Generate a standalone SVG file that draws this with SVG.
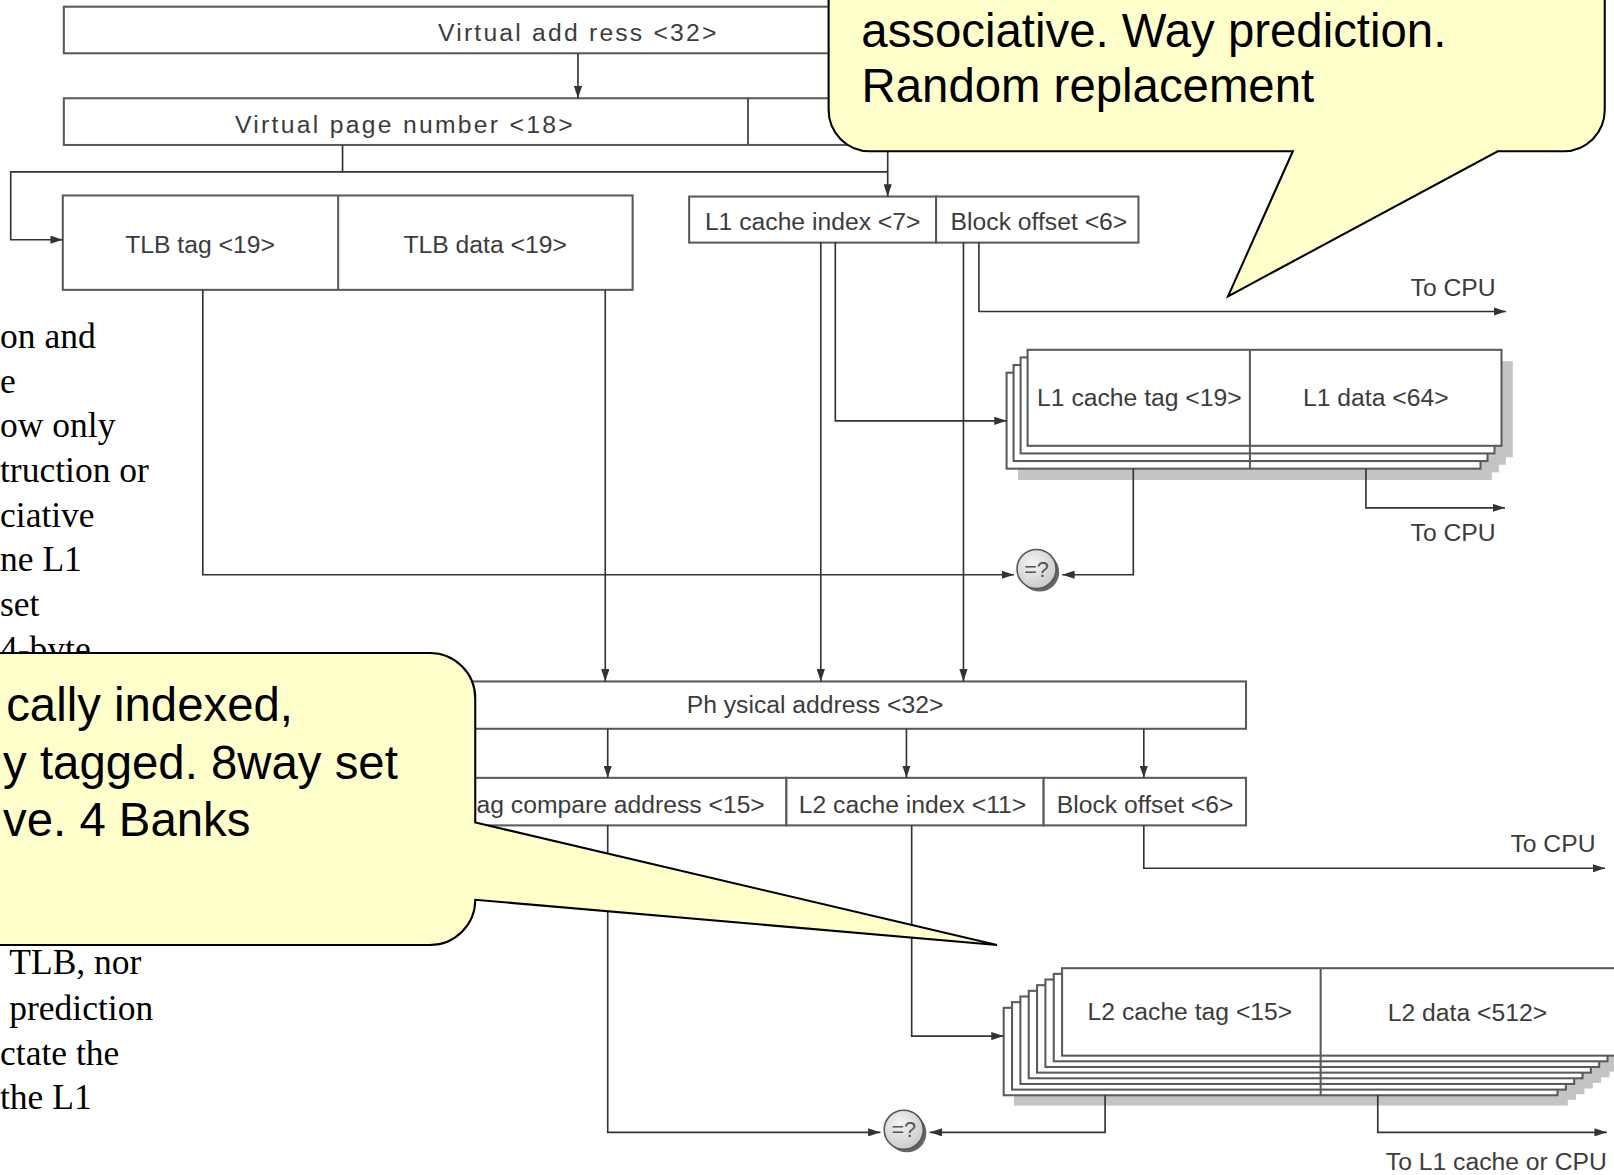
<svg xmlns="http://www.w3.org/2000/svg" width="1614" height="1175" viewBox="0 0 1614 1175">
<defs>
<style>
.box{fill:#fff;stroke:#5a5a5a;stroke-width:2}
.ln{fill:none;stroke:#333;stroke-width:1.6}
.arr{marker-end:url(#ah)}
.lbl{font-family:"Liberation Sans",Arial,sans-serif;font-size:24px;fill:#3c3c3c}
.mid{text-anchor:middle}
.end{text-anchor:end}
.serif{font-family:"Liberation Serif","Times New Roman",serif;font-size:34.5px;fill:#000}
.call{fill:#FFFFCC;stroke:#000;stroke-width:2}
.ctext{font-family:"Liberation Sans",Arial,sans-serif;font-size:46px;fill:#000}
.shd{fill:#c4c4c4;stroke:none}
.cmp{fill:url(#cg);stroke:#555;stroke-width:1.5}
.cmpshd{fill:#666}
.cmpt{font-family:"Liberation Sans",Arial,sans-serif;font-size:21px;fill:#555;text-anchor:middle}
</style>
<marker id="ah" markerUnits="userSpaceOnUse" markerWidth="12" markerHeight="8" refX="12" refY="4" orient="auto">
<path d="M0,0 L12,4 L0,8 z" fill="#333"/>
</marker>
<radialGradient id="cg" cx="0.4" cy="0.35" r="0.7">
<stop offset="0" stop-color="#f4f4f4"/>
<stop offset="1" stop-color="#c8c8c8"/>
</radialGradient>
</defs>
<rect width="1614" height="1175" fill="#fff"/>
<g transform="scale(1.02934 1.0289)">

<g id="caption-text">
<text class="serif" x="0" y="338">on and</text>
<text class="serif" x="0" y="382">e</text>
<text class="serif" x="0" y="425">ow only</text>
<text class="serif" x="0" y="468">truction or</text>
<text class="serif" x="0" y="512">ciative</text>
<text class="serif" x="0" y="555">ne L1</text>
<text class="serif" x="0" y="599">set</text>
<text class="serif" x="0" y="642">4-byte</text>
<text class="serif" x="9" y="947">TLB, nor</text>
<text class="serif" x="9" y="991">prediction</text>
<text class="serif" x="0" y="1035">ctate the</text>
<text class="serif" x="0" y="1078">the L1</text>
</g>

<g id="virtual-address">
<rect class="box" x="62" y="6.5" width="938" height="45.3"/>
<text class="lbl" x="425.5" y="39.5" textLength="270.5" lengthAdjust="spacing">Virtual add ress &lt;32&gt;</text>
</g>

<g id="virtual-page-number">
<rect class="box" x="62" y="95.5" width="664.7" height="45.4"/>
<rect class="box" x="726.7" y="95.5" width="273.3" height="45.4"/>
<text class="lbl" x="228.3" y="129" textLength="328" lengthAdjust="spacing">Virtual page number &lt;18&gt;</text>
</g>

<g id="tlb">
<rect class="box" x="61" y="190" width="553.6" height="91.7"/>
<line class="box" x1="328.5" y1="190" x2="328.5" y2="281.7"/>
<text class="lbl mid" x="194.3" y="246">TLB tag  &lt;19&gt;</text>
<text class="lbl mid" x="471.3" y="246">TLB data &lt;19&gt;</text>
</g>

<g id="l1-index-offset">
<rect class="box" x="669.5" y="191" width="239.9" height="44.8"/>
<rect class="box" x="909.4" y="191" width="196.6" height="44.8"/>
<text class="lbl mid" x="789.5" y="223.5">L1 cache index &lt;7&gt;</text>
<text class="lbl mid" x="1009.3" y="223.5">Block offset &lt;6&gt;</text>
</g>

<g id="l1-cache">
<rect class="shd" x="988.9" y="373.2" width="460.4" height="93.3"/>
<rect class="shd" x="995.7" y="365.8" width="460.4" height="93.3"/>
<rect class="shd" x="1002.5" y="358.4" width="460.4" height="93.3"/>
<rect class="shd" x="1009.3" y="351" width="460.4" height="93.3"/>
<rect class="box" x="977.9" y="362.2" width="460.4" height="93.3"/>
<rect class="box" x="984.7" y="354.8" width="460.4" height="93.3"/>
<rect class="box" x="991.5" y="347.4" width="460.4" height="93.3"/>
<rect class="box" x="998.3" y="340" width="460.4" height="93.3"/>
<line class="box" x1="1214.3" y1="340" x2="1214.3" y2="455.5"/>
<text class="lbl mid" x="1106.9" y="395">L1 cache tag &lt;19&gt;</text>
<text class="lbl mid" x="1336.6" y="395">L1 data &lt;64&gt;</text>
</g>

<g id="l1-compare">
<circle class="cmpshd" cx="1010" cy="556" r="19"/>
<circle class="cmp" cx="1007" cy="553" r="19"/>
<text class="cmpt" x="1007" y="560.5">=?</text>
</g>

<g id="physical-address">
<rect class="box" x="400" y="662.3" width="810.5" height="46"/>
<text class="lbl mid" x="791.8" y="693">Ph ysical address &lt;32&gt;</text>
</g>

<g id="l2-address">
<rect class="box" x="400" y="756" width="364" height="46.2"/>
<rect class="box" x="764" y="756" width="249.9" height="46.2"/>
<rect class="box" x="1013.9" y="756" width="196.6" height="46.2"/>
<text class="lbl end" x="743" y="790">ag compare address &lt;15&gt;</text>
<text class="lbl mid" x="886.5" y="790">L2 cache index &lt;11&gt;</text>
<text class="lbl mid" x="1112.5" y="790">Block offset &lt;6&gt;</text>
</g>

<g id="l2-cache">
<rect class="shd" x="985.1" y="989.5" width="538" height="85"/>
<rect class="shd" x="993.2" y="984" width="538" height="85"/>
<rect class="shd" x="1001.3" y="978.5" width="538" height="85"/>
<rect class="shd" x="1009.4" y="973" width="538" height="85"/>
<rect class="shd" x="1017.5" y="967.5" width="538" height="85"/>
<rect class="shd" x="1025.6" y="962" width="538" height="85"/>
<rect class="shd" x="1033.7" y="956.5" width="538" height="85"/>
<rect class="shd" x="1041.8" y="951" width="538" height="85"/>
<rect class="box" x="975.1" y="979.5" width="538" height="85"/>
<rect class="box" x="983.2" y="974" width="538" height="85"/>
<rect class="box" x="991.3" y="968.5" width="538" height="85"/>
<rect class="box" x="999.4" y="963" width="538" height="85"/>
<rect class="box" x="1007.5" y="957.5" width="538" height="85"/>
<rect class="box" x="1015.6" y="952" width="538" height="85"/>
<rect class="box" x="1023.7" y="946.5" width="538" height="85"/>
<rect class="box" x="1031.8" y="941" width="538" height="85"/>
<line class="box" x1="1283" y1="941" x2="1283" y2="1064.5"/>
<text class="lbl mid" x="1156" y="991">L2 cache tag &lt;15&gt;</text>
<text class="lbl mid" x="1425.6" y="992">L2 data &lt;512&gt;</text>
</g>

<g id="l2-compare">
<circle class="cmpshd" cx="881" cy="1101" r="19"/>
<circle class="cmp" cx="878" cy="1098" r="19"/>
<text class="cmpt" x="878" y="1105.5">=?</text>
</g>

<g id="labels">
<text class="lbl end" x="1453" y="288">To CPU</text>
<text class="lbl end" x="1453" y="526">To CPU</text>
<text class="lbl end" x="1550" y="828">To CPU</text>
<text class="lbl end" x="1561" y="1137">To L1 cache or CPU</text>
</g>

<g id="connectors">
<path class="ln arr" d="M561.5,51.8 V95.5"/>
<path class="ln arr" d="M332.8,141 V167 H10.4 V233 H61"/>
<path class="ln" d="M332.8,167 H862.4"/>
<path class="ln arr" d="M862.4,141 V191"/>
<path class="ln arr" d="M197,281.7 V558.6 H985"/>
<path class="ln arr" d="M588,281.7 V662.3"/>
<path class="ln arr" d="M797.4,235.8 V662.3"/>
<path class="ln arr" d="M811.5,235.8 V409 H977.9"/>
<path class="ln arr" d="M936,235.8 V662.3"/>
<path class="ln arr" d="M951,235.8 V302.8 H1463"/>
<path class="ln arr" d="M1101,455.5 V558.6 H1032"/>
<path class="ln arr" d="M1327,455.5 V493.6 H1462"/>
<path class="ln arr" d="M590.4,708.3 V756"/>
<path class="ln arr" d="M880.6,708.3 V756"/>
<path class="ln arr" d="M1111.2,708.3 V756"/>
<path class="ln arr" d="M590.4,802.2 V1100.5 H855.4"/>
<path class="ln arr" d="M885.7,802.2 V1007 H975"/>
<path class="ln arr" d="M1111.2,802.2 V843.9 H1559.3"/>
<path class="ln arr" d="M1073.6,1064.5 V1100.5 H903.3"/>
<path class="ln arr" d="M1338.5,1064.5 V1100.5 H1561"/>
</g>

<g id="callout-l1">
<path class="call" d="M805,-60 V107 A40,40 0 0 0 845,147 H1256 L1193,288 L1455,147 H1519 A40,40 0 0 0 1559,107 V-60 Z"/>
<text class="ctext" x="836.8" y="45.5">associative. Way prediction.</text>
<text class="ctext" x="837" y="99.5">Random replacement</text>
</g>

<g id="callout-l2">
<path class="call" d="M-60,634.7 H417.7 A44,44 0 0 1 461.7,678.7 V799.3 L968.6,918.5 L461.7,874.5 A44,44 0 0 1 417.7,918.5 H-60 Z"/>
<text class="ctext" x="6" y="701">cally indexed,</text>
<text class="ctext" x="3" y="757">y tagged. 8way set</text>
<text class="ctext" x="3" y="813">ve. 4 Banks</text>
</g>

</g>
</svg>
